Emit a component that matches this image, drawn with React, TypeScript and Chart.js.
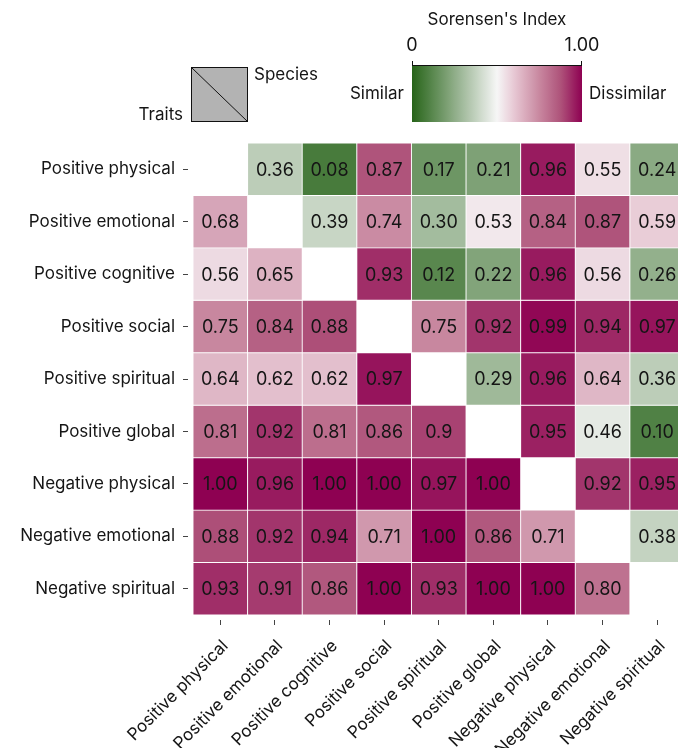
import React, { useEffect, useRef } from 'react';
import { Chart, registerables } from 'chart.js';

Chart.register(...registerables);

const rowLabels = [
  'Positive physical',
  'Positive emotional',
  'Positive cognitive',
  'Positive social',
  'Positive spiritual',
  'Positive global',
  'Negative physical',
  'Negative emotional',
  'Negative spiritual',
];

const colLabels = [
  'Positive physical',
  'Positive emotional',
  'Positive cognitive',
  'Positive social',
  'Positive spiritual',
  'Positive global',
  'Negative physical',
  'Negative emotional',
  'Negative spiritual',
];

const row0 = [null, '0.36', '0.08', '0.87', '0.17', '0.21', '0.96', '0.55', '0.24'];
const row1 = ['0.68', null, '0.39', '0.74', '0.30', '0.53', '0.84', '0.87', '0.59'];
const row2 = ['0.56', '0.65', null, '0.93', '0.12', '0.22', '0.96', '0.56', '0.26'];
const row3 = ['0.75', '0.84', '0.88', null, '0.75', '0.92', '0.99', '0.94', '0.97'];
const row4 = ['0.64', '0.62', '0.62', '0.97', null, '0.29', '0.96', '0.64', '0.36'];
const row5 = ['0.81', '0.92', '0.81', '0.86', '0.9', null, '0.95', '0.46', '0.10'];
const row6 = ['1.00', '0.96', '1.00', '1.00', '0.97', '1.00', null, '0.92', '0.95'];
const row7 = ['0.88', '0.92', '0.94', '0.71', '1.00', '0.86', '0.71', null, '0.38'];
const row8 = ['0.93', '0.91', '0.86', '1.00', '0.93', '1.00', '1.00', '0.80', null];
const rows: (string | null)[][] = [row0, row1, row2, row3, row4, row5, row6, row7, row8];

const colorbarTicks = ['0', '1.00'];

const FONT = 'Inter, "Noto Sans", sans-serif';

// colormap stops: [position, r, g, b]
const CMAP_STOPS: number[][] = [
  [0.0, 39, 100, 25],
  [0.5, 246, 246, 246],
  [0.6, 231, 200, 212],
  [0.75, 200, 135, 159],
  [0.875, 174, 82, 122],
  [1.0, 142, 1, 82],
];

function cmap(v: number): string {
  let i = 0;
  while (i < CMAP_STOPS.length - 2 && v > CMAP_STOPS[i + 1][0]) i++;
  const a = CMAP_STOPS[i];
  const b = CMAP_STOPS[i + 1];
  const t = Math.max(0, Math.min(1, (v - a[0]) / (b[0] - a[0])));
  const c = [1, 2, 3].map((k) => Math.round(a[k] + (b[k] - a[k]) * t));
  return `rgb(${c[0]},${c[1]},${c[2]})`;
}

const overlayPlugin = {
  id: 'overlay',
  afterDatasetsDraw(chart: any) {
    const { ctx } = chart;
    const x = chart.scales.x;
    const y = chart.scales.y;
    ctx.save();
    ctx.font = `18px ${FONT}`;
    ctx.textAlign = 'center';
    ctx.textBaseline = 'middle';
    ctx.fillStyle = '#151515';
    rows.forEach((row, r) => {
      row.forEach((v, c) => {
        if (v == null) return;
        ctx.fillText(v, x.getPixelForValue(c), y.getPixelForValue(r) + 1);
      });
    });
    ctx.restore();
  },
  afterDraw(chart: any) {
    const { ctx } = chart;
    ctx.save();
    // Legend square
    ctx.fillStyle = '#b3b3b3';
    ctx.fillRect(191, 67, 57, 55);
    ctx.strokeStyle = '#111';
    ctx.lineWidth = 1;
    ctx.strokeRect(191.5, 67.5, 56, 54);
    ctx.beginPath();
    ctx.moveTo(191.5, 67.5);
    ctx.lineTo(247.5, 121.5);
    ctx.stroke();

    ctx.fillStyle = '#151515';
    ctx.font = `17px ${FONT}`;
    ctx.textBaseline = 'middle';
    ctx.textAlign = 'left';
    ctx.fillText('Species', 254, 75);
    ctx.textAlign = 'right';
    ctx.fillText('Traits', 183, 115);

    // Colorbar
    const cx0 = 412, cx1 = 582, cy0 = 66, cy1 = 122;
    const grad = ctx.createLinearGradient(cx0, 0, cx1, 0);
    for (let i = 0; i <= 40; i++) {
      grad.addColorStop(i / 40, cmap(i / 40));
    }
    ctx.fillStyle = grad;
    ctx.fillRect(cx0, cy0, cx1 - cx0, cy1 - cy0);
    ctx.strokeStyle = '#111';
    ctx.beginPath();
    ctx.moveTo(cx0, cy0 - 0.5);
    ctx.lineTo(cx1, cy0 - 0.5);
    ctx.moveTo(cx0 + 0.5, cy0);
    ctx.lineTo(cx0 + 0.5, cy0 - 5);
    ctx.moveTo(cx1 - 0.5, cy0);
    ctx.lineTo(cx1 - 0.5, cy0 - 5);
    ctx.stroke();

    ctx.fillStyle = '#151515';
    ctx.textAlign = 'center';
    ctx.fillText('Sorensen\'s Index', (cx0 + cx1) / 2, 20);
    ctx.font = `18px ${FONT}`;
    ctx.fillText(colorbarTicks[0], cx0, 46);
    ctx.fillText(colorbarTicks[1], cx1, 46);
    ctx.font = `17px ${FONT}`;
    ctx.textAlign = 'right';
    ctx.fillText('Similar', 404, 94);
    ctx.textAlign = 'left';
    ctx.fillText('Dissimilar', 589, 94);
    ctx.restore();
  },
};

export default function App() {
  const canvasRef = useRef<HTMLCanvasElement | null>(null);

  useEffect(() => {
    const canvas = canvasRef.current;
    if (!canvas) return;
    const datasets = rows.map((row, r) => ({
      label: rowLabels[r],
      data: row.map((v) => (v == null ? null : [r - 0.5, r + 0.5])),
      backgroundColor: row.map((v) => (v == null ? 'rgba(0,0,0,0)' : cmap(Number(v)))),
      borderColor: 'rgba(255,255,255,0.85)',
      borderWidth: 0.8,
      borderSkipped: false,
      grouped: false,
      barPercentage: 1,
      categoryPercentage: 1,
    }));

    const chart = new Chart(canvas, {
      type: 'bar',
      data: { labels: colLabels, datasets: datasets as any },
      plugins: [overlayPlugin],
      options: {
        responsive: false,
        animation: false,
        events: [],
        layout: { padding: { top: 143, right: 1.5, bottom: 0, left: 0 } },
        plugins: { legend: { display: false }, tooltip: { enabled: false } },
        scales: {
          x: {
            type: 'category',
            offset: true,
            afterFit: (s: any) => { s.height = 133; },
            grid: {
              offset: false,
              drawOnChartArea: false,
              tickLength: 10,
              tickColor: '#444',
              tickWidth: 1,
              tickBorderDash: [5, 5],
              tickBorderDashOffset: 5,
            },
            border: { display: false },
            ticks: {
              autoSkip: false,
              maxRotation: 45,
              minRotation: 45,
              padding: 11,
              labelOffset: 5,
              color: '#151515',
              font: { family: FONT, size: 17 },
            },
          },
          y: {
            type: 'linear',
            min: -0.5,
            max: 8.5,
            reverse: true,
            afterFit: (s: any) => { s.width = 193; },
            afterBuildTicks: (s: any) => { s.ticks = rowLabels.map((_, i) => ({ value: i })); },
            grid: {
              drawOnChartArea: false,
              tickLength: 10,
              tickColor: '#444',
              tickWidth: 1,
              tickBorderDash: [5, 5],
            },
            border: { display: false },
            ticks: {
              autoSkip: false,
              padding: 8,
              color: '#151515',
              font: { family: FONT, size: 17 },
              callback: (v: any) => rowLabels[v as number] ?? '',
            },
          },
        },
      },
    });
    return () => chart.destroy();
  }, []);

  return (
    <div style={{ position: 'absolute', left: 0, top: 0, width: 678, height: 748, overflow: 'hidden', background: '#fff' }}>
      <canvas ref={canvasRef} width={686} height={748} style={{ display: 'block' }} />
    </div>
  );
}
